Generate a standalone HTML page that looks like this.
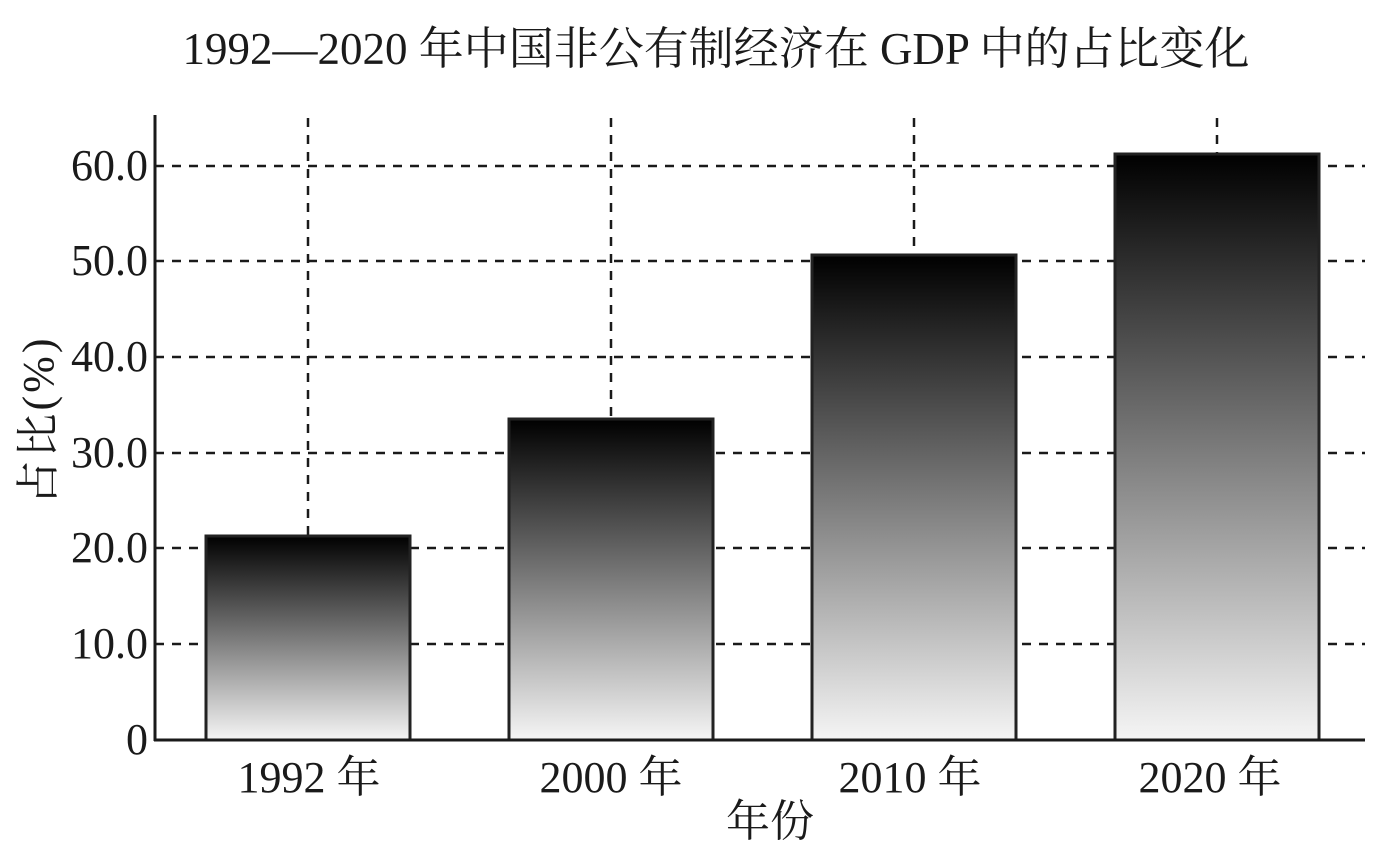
<!DOCTYPE html>
<html><head><meta charset="utf-8"><style>
html,body{margin:0;padding:0;background:#fff;}
svg{display:block;}
text{font-family:"Liberation Serif","Noto Serif CJK SC",serif;fill:#1a1a1a;}
</style></head><body>
<svg width="1393" height="851" viewBox="0 0 1393 851" xmlns="http://www.w3.org/2000/svg">
<defs>
<linearGradient id="g" x1="0" y1="0" x2="0" y2="1">
<stop offset="0" stop-color="#000"/>
<stop offset="0.45" stop-color="#6e6e6e"/>
<stop offset="1" stop-color="#f5f5f5"/>
</linearGradient>
</defs>
<text x="716" y="64" font-size="45" text-anchor="middle">1992—2020 年中国非公有制经济在 GDP 中的占比变化</text>
<g stroke="#1a1a1a" stroke-width="2.5" stroke-dasharray="9,8">
<line x1="155" x2="1365" y1="644" y2="644"/>
<line x1="155" x2="1365" y1="548" y2="548"/>
<line x1="155" x2="1365" y1="453" y2="453"/>
<line x1="155" x2="1365" y1="357" y2="357"/>
<line x1="155" x2="1365" y1="261" y2="261"/>
<line x1="155" x2="1365" y1="166" y2="166"/>
<line x1="308" x2="308" y1="118" y2="740"/>
<line x1="611" x2="611" y1="118" y2="740"/>
<line x1="914" x2="914" y1="118" y2="740"/>
<line x1="1217" x2="1217" y1="118" y2="740"/>
</g>
<g stroke="#222" stroke-width="3" fill="url(#g)">
<rect x="206" y="536" width="204" height="204"/>
<rect x="509" y="419" width="204" height="321"/>
<rect x="812" y="255" width="204" height="485"/>
<rect x="1115" y="154" width="204" height="586"/>
</g>
<g stroke="#1a1a1a" stroke-width="3">
<line x1="155" y1="115" x2="155" y2="741"/>
<line x1="154" y1="740" x2="1365" y2="740"/>
</g>
<g font-size="44" text-anchor="end">
<text x="148" y="754">0</text>
<text x="148" y="658">10.0</text>
<text x="148" y="562">20.0</text>
<text x="148" y="467">30.0</text>
<text x="148" y="371">40.0</text>
<text x="148" y="275">50.0</text>
<text x="148" y="180">60.0</text>
</g>
<g font-size="44" text-anchor="middle">
<text x="309" y="792">1992 年</text>
<text x="611" y="792">2000 年</text>
<text x="910" y="792">2010 年</text>
<text x="1210" y="792">2020 年</text>
<text x="770" y="836">年份</text>
</g>
<text font-size="44" text-anchor="middle" letter-spacing="3" transform="translate(53,420) rotate(-90)">占比(%)</text>
</svg>
</body></html>
